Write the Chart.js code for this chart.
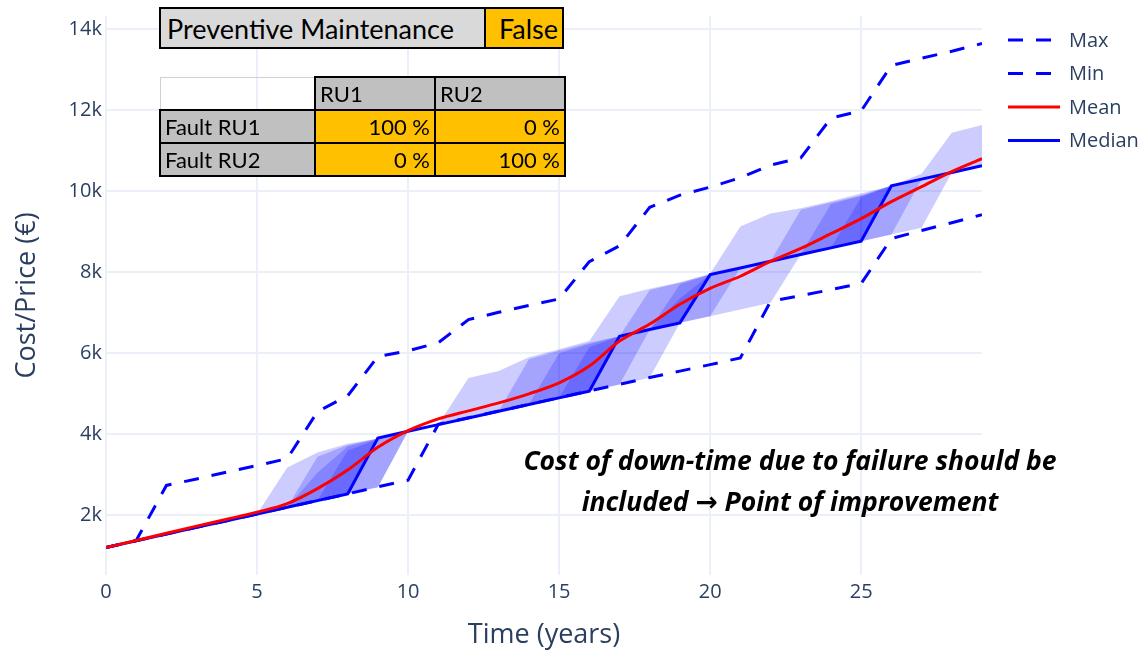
<!DOCTYPE html>
<html>
<head>
<meta charset="utf-8">
<script src="https://cdn.jsdelivr.net/npm/chart.js@4.4.0/dist/chart.umd.min.js"></script>
<style>
  body { margin: 0; background: #fff; }
  #wrap { position: relative; width: 1145px; height: 652px; overflow: hidden; }
  #chart { position: absolute; left: 0; top: 0; }
  .cell { position: absolute; box-sizing: border-box; font-family: Lato, sans-serif; color: #000; display: flex; align-items: center; white-space: nowrap; }
  table.ru { position: absolute; left: 159px; top: 76px; border-collapse: collapse; font-family: Lato, sans-serif; font-size: 22px; }
  table.ru td { border: 2px solid #000; height: 33px; padding: 0 4px; box-sizing: border-box; white-space: nowrap; }
  table.ru td.gray { background: #c0c0c0; }
  table.ru td.val { background: #ffc000; text-align: right; }
  .note { position: absolute; left: 440px; width: 700px; text-align: center; font-family: "Open Sans", sans-serif; font-weight: bold; font-style: italic; font-size: 26.5px; color: #000; white-space: nowrap; }
  .note .arrow { font-family: "DejaVu Sans", sans-serif; font-style: normal; font-weight: bold; }
</style>
</head>
<body>
<div id="wrap">
  <canvas id="chart" width="1145" height="652"></canvas>

  <div class="cell" style="left:159px;top:7px;width:327px;height:42px;background:#d9d9d9;border:2px solid #000;font-size:27px;padding-left:6px;">Preventive Maintenance</div>
  <div class="cell" style="left:484px;top:7px;width:80px;height:42px;background:#ffc000;border:2px solid #000;font-size:27px;justify-content:flex-end;padding-right:4px;">False</div>

  <table class="ru">
    <tr>
      <td style="width:155px;border:1px solid #d0d0d0;border-right:2px solid #000;"></td>
      <td class="gray" style="width:120px;">RU1</td>
      <td class="gray" style="width:130px;">RU2</td>
    </tr>
    <tr>
      <td class="gray">Fault RU1</td>
      <td class="val">100 %</td>
      <td class="val">0 %</td>
    </tr>
    <tr>
      <td class="gray">Fault RU2</td>
      <td class="val">0 %</td>
      <td class="val">100 %</td>
    </tr>
  </table>

  <div class="note" style="top:442px;">Cost of down-time due to failure should be</div>
  <div class="note" style="top:483px;">included <span class="arrow">&#8594;</span> Point of improvement</div>
</div>

<script>
// values
const years = [0, 1, 2, 3, 4, 5, 6, 7, 8, 9, 10, 11, 12, 13, 14, 15, 16, 17, 18, 19, 20, 21, 22, 23, 24, 25, 26, 27, 28, 29];

const meanCost = [1210, 1380, 1560, 1735, 1905, 2080, 2290, 2660, 3120, 3680, 4090, 4380, 4580, 4775, 5000, 5270, 5685, 6300, 6720, 7210, 7600, 7900, 8265, 8585, 8950, 9320, 9740, 10110, 10480, 10800];
const medianCost = [1210, 1375, 1540, 1705, 1870, 2035, 2200, 2365, 2530, 3910, 4075, 4240, 4405, 4570, 4735, 4900, 5065, 6420, 6585, 6750, 7940, 8105, 8270, 8435, 8600, 8765, 10130, 10295, 10460, 10625];
const maxCost = [1210, 1380, 2740, 2900, 3070, 3230, 3400, 4560, 4950, 5920, 6060, 6260, 6830, 7010, 7180, 7340, 8260, 8650, 9600, 9900, 10100, 10330, 10640, 10820, 11800, 11980, 13100, 13280, 13450, 13640];
const minCost = [1210, 1375, 1540, 1705, 1870, 2035, 2200, 2365, 2530, 2705, 2870, 4245, 4410, 4575, 4740, 4905, 5070, 5235, 5400, 5560, 5720, 5885, 7280, 7420, 7570, 7720, 8830, 9030, 9220, 9420];

// percentile bands (pairs: p10-p90, p20-p80, p30-p70, p40-p60)
const p90 = [1210, 1375, 1540, 1705, 1870, 2035, 3180, 3550, 3770, 3900, 4075, 4240, 5390, 5560, 5900, 6100, 6300, 7405, 7590, 7750, 7960, 9125, 9445, 9580, 9750, 9940, 10130, 10430, 11440, 11630];
const p80 = [1210, 1375, 1540, 1705, 1870, 2035, 2200, 3450, 3740, 3900, 4075, 4240, 4405, 4570, 5850, 6060, 6260, 6420, 7560, 7740, 7940, 8105, 8270, 9540, 9720, 9900, 10130, 10295, 10460, 10625];
const p70 = [1210, 1375, 1540, 1705, 1870, 2035, 2200, 3050, 3700, 3890, 4075, 4240, 4405, 4570, 4735, 6000, 6230, 6420, 6585, 7700, 7940, 8105, 8270, 8435, 9680, 9880, 10130, 10295, 10460, 10625];
const p60 = [1210, 1375, 1540, 1705, 1870, 2035, 2200, 2365, 3600, 3880, 4075, 4240, 4405, 4570, 4735, 4900, 6150, 6420, 6585, 7350, 7940, 8105, 8270, 8435, 8600, 9850, 10130, 10295, 10460, 10625];
const p40 = [1210, 1375, 1540, 1705, 1870, 2035, 2200, 2365, 2530, 3880, 4075, 4240, 4405, 4570, 4735, 4900, 5065, 6400, 6585, 6750, 7920, 8105, 8270, 8435, 8600, 8765, 10110, 10295, 10460, 10625];
const p30 = [1210, 1375, 1540, 1705, 1870, 2035, 2200, 2365, 2530, 3870, 4075, 4240, 4405, 4570, 4735, 4900, 5065, 6390, 6585, 6750, 7900, 8105, 8270, 8435, 8600, 8765, 10100, 10295, 10460, 10625];
const p20 = [1210, 1375, 1540, 1705, 1870, 2035, 2200, 2365, 2530, 2695, 4075, 4240, 4405, 4570, 4735, 4900, 5065, 5230, 6585, 6750, 6915, 8105, 8270, 8435, 8600, 8765, 8930, 10295, 10460, 10625];
const p10 = [1210, 1375, 1540, 1705, 1870, 2035, 2200, 2365, 2530, 2695, 4075, 4240, 4405, 4570, 4735, 4900, 5065, 5230, 5395, 6750, 6915, 7080, 7245, 8435, 8600, 8765, 8930, 9095, 10460, 10625];

const xTicks = [0, 5, 10, 15, 20, 25];
const yTicks = [2000, 4000, 6000, 8000, 10000, 12000, 14000];

const tickColor = "#2a3f5f";
const gridColor = "#ebf0f8";
const bandColor = "rgba(0, 0, 255, 0.2)";

function pts(values) {
	return years.map((x, i) => ({ x: x, y: values[i] }));
}

function band(values, target) {
	return {
		label: "",
		data: pts(values),
		borderWidth: 0,
		borderColor: "rgba(0,0,0,0)",
		backgroundColor: bandColor,
		fill: target === null ? false : { target: target },
		pointRadius: 0,
		order: 10,
	};
}

// draws the legend on the right like the original
const sideLegend = {
	id: "sideLegend",
	afterDraw(chart) {
		const ctx = chart.ctx;
		const items = chart.data.datasets.filter((d) => d.inLegend);
		ctx.save();
		ctx.font = "20px 'Open Sans'";
		ctx.textBaseline = "middle";
		items.forEach((d, i) => {
			const y = 40 + i * 33.5;
			ctx.beginPath();
			ctx.strokeStyle = d.borderColor;
			ctx.lineWidth = 3;
			ctx.setLineDash(d.borderDash || []);
			ctx.moveTo(1008, y);
			ctx.lineTo(1060, y);
			ctx.stroke();
			ctx.setLineDash([]);
			ctx.fillStyle = tickColor;
			ctx.fillText(d.label, 1069, y + 1);
		});
		ctx.restore();
	},
};

const ctx = document.getElementById("chart").getContext("2d");
new Chart(ctx, {
	type: "line",
	data: {
		datasets: [
			{ label: "Max", data: pts(maxCost), borderColor: "#0000ff", borderWidth: 3, borderDash: [15, 13], pointRadius: 0, fill: false, order: 3, inLegend: true },
			{ label: "Min", data: pts(minCost), borderColor: "#0000ff", borderWidth: 3, borderDash: [15, 13], pointRadius: 0, fill: false, order: 2, inLegend: true },
			{ label: "Mean", data: pts(meanCost), borderColor: "#ff0000", borderWidth: 3, pointRadius: 0, fill: false, cubicInterpolationMode: "monotone", order: 0, inLegend: true },
			{ label: "Median", data: pts(medianCost), borderColor: "#0000ff", borderWidth: 3, pointRadius: 0, fill: false, order: 1, inLegend: true },
			band(p90, 11),
			band(p80, 10),
			band(p70, 9),
			band(p60, 8),
			band(p40, null),
			band(p30, null),
			band(p20, null),
			band(p10, null),
		],
	},
	options: {
		responsive: false,
		animation: false,
		layout: { padding: { top: 15, right: 163, left: 0, bottom: 0 } },
		plugins: {
			legend: { display: false },
			tooltip: { enabled: false },
		},
		scales: {
			x: {
				type: "linear",
				min: 0,
				max: 29,
				border: { display: false },
				grid: { color: gridColor, lineWidth: 2, drawTicks: false },
				ticks: { color: tickColor, font: { family: "Open Sans", size: 20 }, padding: 5, maxRotation: 0 },
				afterBuildTicks: (axis) => {
					axis.ticks = xTicks.map((v) => ({ value: v }));
				},
				afterFit: (axis) => {
					axis.height = 77;
				},
				title: {
					display: true,
					text: "Time (years)",
					color: tickColor,
					font: { family: "Open Sans", size: 27 },
					padding: { top: 0, bottom: 0 },
				},
			},
			y: {
				min: 530,
				max: 14320,
				border: { display: false },
				grid: { color: gridColor, lineWidth: 2, drawTicks: false },
				ticks: {
					color: tickColor,
					font: { family: "Open Sans", size: 20 },
					padding: 4,
					callback: (v) => v / 1000 + "k",
				},
				afterBuildTicks: (axis) => {
					axis.ticks = yTicks.map((v) => ({ value: v }));
				},
				afterFit: (axis) => {
					axis.width = 106;
				},
				title: {
					display: true,
					text: "Cost/Price (€)",
					color: tickColor,
					font: { family: "Open Sans", size: 27 },
					padding: { top: 11, bottom: 0 },
				},
			},
		},
	},
	plugins: [sideLegend],
});
</script>
</body>
</html>
